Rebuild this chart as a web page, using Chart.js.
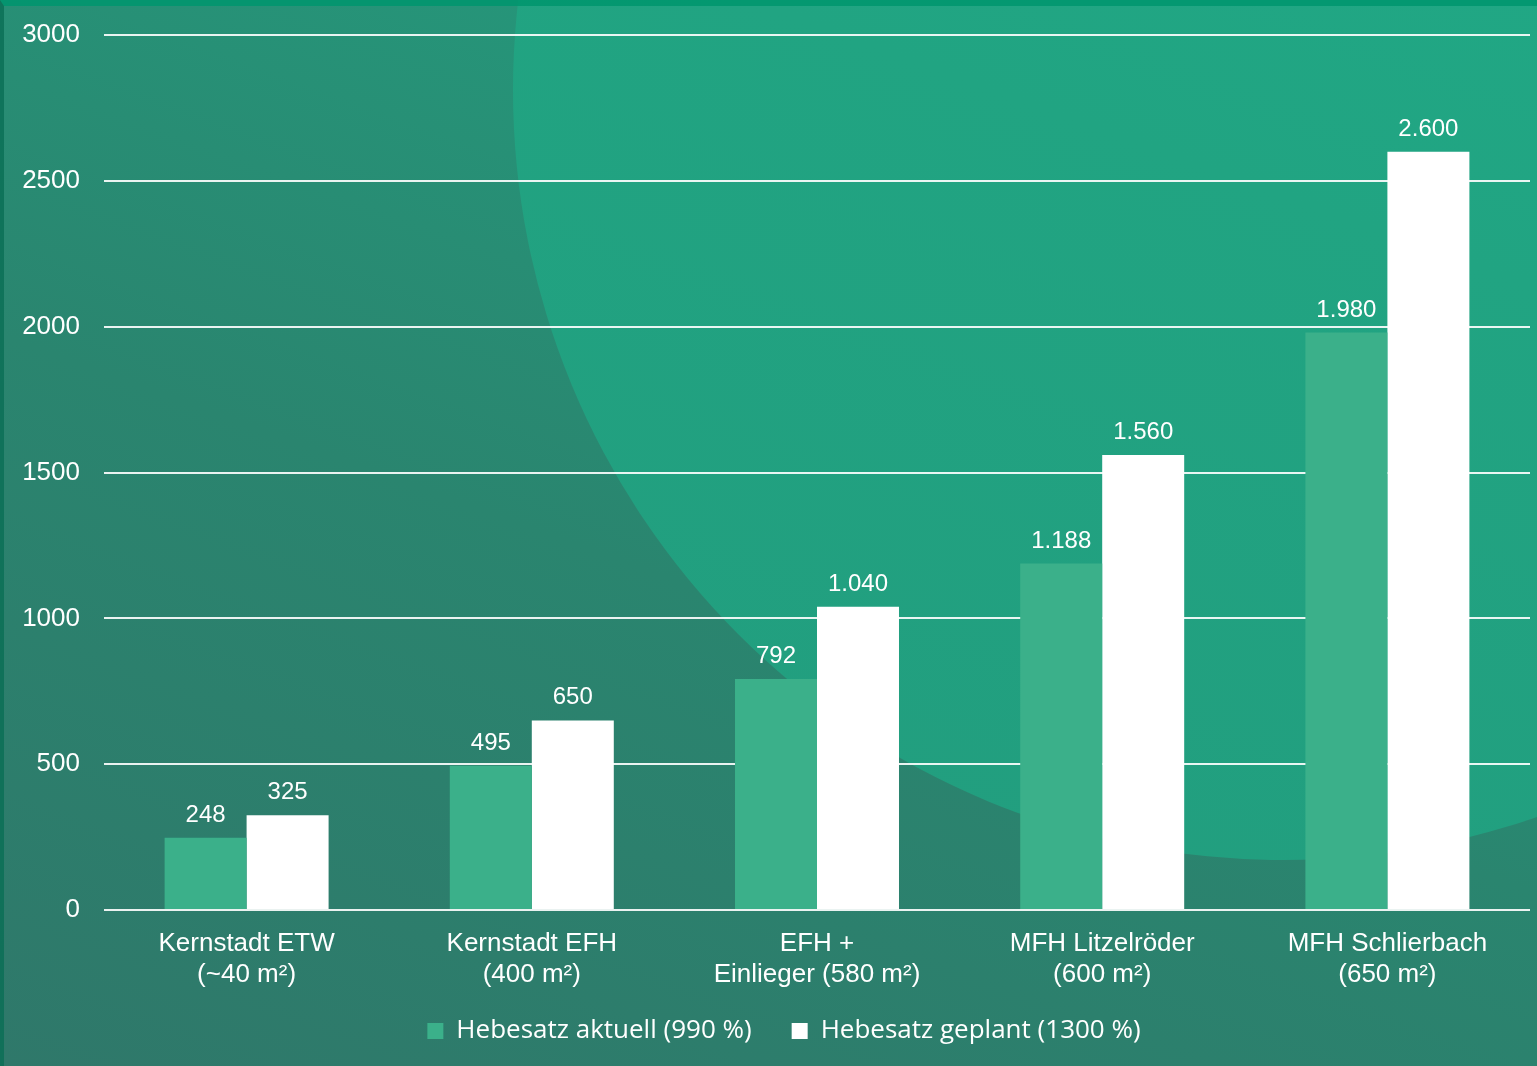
<!DOCTYPE html>
<html lang="de">
<head>
<meta charset="utf-8">
<title>Grundsteuer Hebesatz</title>
<script src="https://cdn.jsdelivr.net/npm/chart.js@4.4.1/dist/chart.umd.min.js"></script>
<style>
  html, body { margin: 0; padding: 0; }
  body {
    width: 1537px; height: 1066px; overflow: hidden; position: relative;
    background: linear-gradient(20deg, #2f786a 0%, #2a856f 45%, #23a080 100%);
  }
  /* big light circle top right */
  .circle {
    position: absolute; left: 513px; top: -680px; width: 1540px; height: 1540px;
    border-radius: 50%;
    background: linear-gradient(200deg, #20b08b 0%, #21a482 55%, #229d7e 100%);
  }
  .frame {
    position: absolute; left: 0; top: 0; right: 0; bottom: 0;
    border-top: 6px solid rgba(0, 150, 110, .85);
    border-left: 4px solid rgba(10, 110, 85, .8);
    pointer-events: none;
  }
  #wrap { position: absolute; left: 0; top: 0; width: 1537px; height: 1066px; }
</style>
</head>
<body>
<div class="circle"></div>
<div class="frame"></div>
<div id="wrap"><canvas id="chart"></canvas></div>
<script>
'use strict';

/* ── Data ───────────────────────────────────────────────────────── */
const categories = [
  ['Kernstadt ETW', '(~40 m²)'],
  ['Kernstadt EFH', '(400 m²)'],
  ['EFH +', 'Einlieger (580 m²)'],
  ['MFH Litzelröder', '(600 m²)'],
  ['MFH Schlierbach', '(650 m²)']
];
const hebesatzAktuell  = [248, 495, 792, 1188, 1980];
const hebesatzGeplant  = [325, 650, 1040, 1560, 2600];
const seriesLabels     = ['Hebesatz aktuell (990 %)', 'Hebesatz geplant (1300 %)'];
const yTicks           = [0, 500, 1000, 1500, 2000, 2500, 3000];

/* ── Helpers ────────────────────────────────────────────────────── */
const fmtDE = v => String(v).replace(/\B(?=(\d{3})+(?!\d))/g, '.');

const valueLabels = {
  id: 'valueLabels',
  afterDatasetsDraw(chart) {
    const ctx = chart.ctx;
    ctx.save();
    ctx.fillStyle = '#ffffff';
    ctx.font = "24px 'Liberation Sans', Arial, sans-serif";
    ctx.textAlign = 'center';
    ctx.textBaseline = 'alphabetic';
    chart.data.datasets.forEach((ds, i) => {
      chart.getDatasetMeta(i).data.forEach((bar, j) => {
        ctx.fillText(fmtDE(ds.data[j]), bar.x, bar.y - 16);
      });
    });
    ctx.restore();
  }
};

// legend in the original sits a bit right of centre and closer to the axis labels
const legendShift = {
  id: 'legendShift',
  afterLayout(chart) {
    const lg = chart.legend;
    if (!lg) return;
    lg.left += 19;  lg.right += 19;
    lg.top -= 12;   lg.bottom -= 12;
  }
};

/* ── Chart ──────────────────────────────────────────────────────── */
new Chart(document.getElementById('chart'), {
  type: 'bar',
  data: {
    labels: categories,
    datasets: [
      { label: seriesLabels[0], data: hebesatzAktuell, backgroundColor: '#3bb08a', borderWidth: 0 },
      { label: seriesLabels[1], data: hebesatzGeplant, backgroundColor: '#ffffff', borderWidth: 0 }
    ]
  },
  options: {
    responsive: true,
    maintainAspectRatio: false,
    animation: false,
    devicePixelRatio: 1,
    layout: { padding: { top: 35, right: 7, bottom: 0, left: 0 } },
    datasets: { bar: { categoryPercentage: 0.575, barPercentage: 1 } },
    plugins: {
      tooltip: { enabled: false },
      legend: {
        position: 'bottom',
        labels: {
          color: '#ffffff',
          font: { family: "'Open Sans', sans-serif", size: 26 },
          boxWidth: 16, boxHeight: 16, padding: 40
        }
      }
    },
    scales: {
      x: {
        grid: { display: false },
        border: { display: false },
        ticks: {
          color: '#ffffff',
          font: { family: "'Liberation Sans', Arial, sans-serif", size: 26, lineHeight: 1.2 },
          padding: 10,
          maxRotation: 0, autoSkip: false
        },
        afterFit(scale) { scale.height = 80; scale.paddingLeft = 0; scale.paddingRight = 0; }
      },
      y: {
        min: 0, max: 3000,
        afterBuildTicks(scale) { scale.ticks = yTicks.map(v => ({ value: v })); },
        grid: { color: 'rgba(255,255,255,0.9)', lineWidth: 2, drawTicks: false },
        border: { display: false },
        ticks: {
          color: '#ffffff',
          font: { family: "'Liberation Sans', Arial, sans-serif", size: 26 },
          padding: 24,
          callback: v => String(v)
        },
        afterFit(scale) { scale.width = 104; scale.paddingTop = 0; scale.paddingBottom = 0; }
      }
    }
  },
  plugins: [valueLabels, legendShift]
});
</script>
</body>
</html>
